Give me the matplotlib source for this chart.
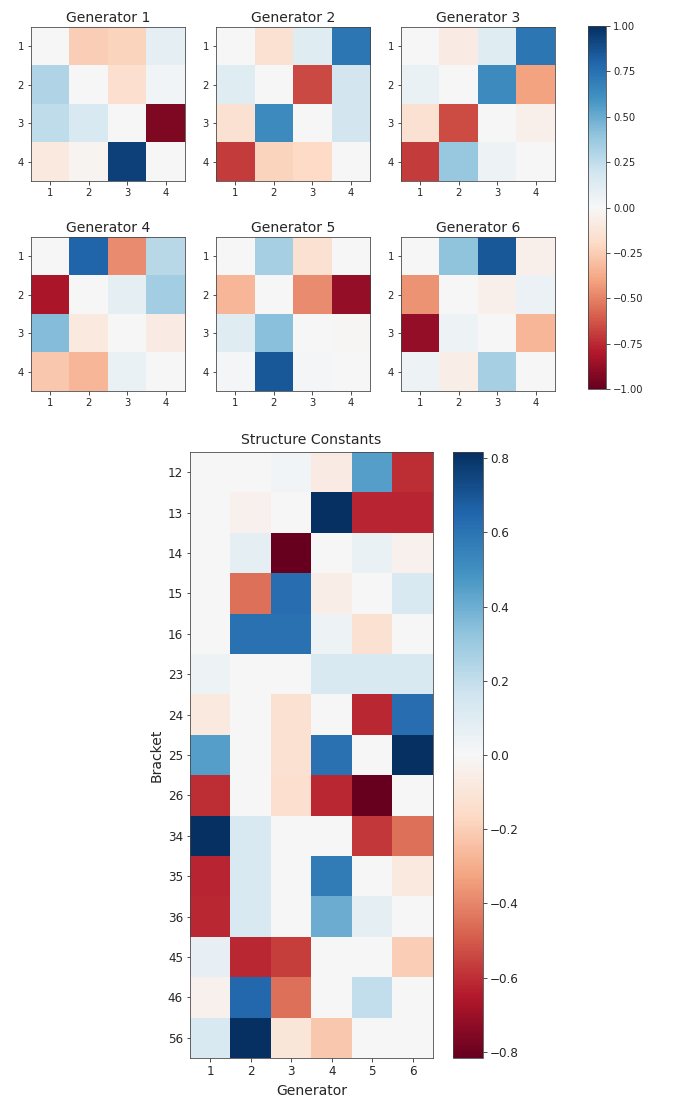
import numpy as np
import matplotlib
matplotlib.use("Agg")
import matplotlib.pyplot as plt
from matplotlib.colors import Normalize

# ---- data ----
gen_titles = ["Generator 1", "Generator 2", "Generator 3",
              "Generator 4", "Generator 5", "Generator 6"]
gen_ticks = ["1", "2", "3", "4"]

gen1 = [[0.00, -0.25, -0.22, 0.10],
        [0.30, 0.00, -0.17, 0.03],
        [0.25, 0.15, 0.00, -0.93],
        [-0.10, -0.03, 0.93, 0.00]]
gen2 = [[0.00, -0.15, 0.12, 0.72],
        [0.12, 0.00, -0.66, 0.18],
        [-0.15, 0.64, 0.00, 0.18],
        [-0.70, -0.22, -0.20, 0.00]]
gen3 = [[0.00, -0.08, 0.12, 0.72],
        [0.07, 0.00, 0.64, -0.40],
        [-0.15, -0.65, 0.00, -0.05],
        [-0.70, 0.38, 0.05, 0.00]]
gen4 = [[0.00, 0.80, -0.47, 0.28],
        [-0.82, 0.00, 0.10, 0.35],
        [0.43, -0.10, 0.00, -0.08],
        [-0.27, -0.33, 0.07, 0.00]]
gen5 = [[0.00, 0.33, -0.15, 0.00],
        [-0.33, 0.00, -0.47, -0.88],
        [0.12, 0.42, 0.00, -0.01],
        [0.02, 0.85, 0.02, 0.00]]
gen6 = [[0.00, 0.40, 0.85, -0.05],
        [-0.45, 0.00, -0.05, 0.06],
        [-0.88, 0.05, 0.00, -0.33],
        [0.05, -0.07, 0.33, 0.00]]
generators = [gen1, gen2, gen3, gen4, gen5, gen6]

bracket_labels = ["12", "13", "14", "15", "16", "23", "24", "25", "26",
                  "34", "35", "36", "45", "46", "56"]
generator_labels = ["1", "2", "3", "4", "5", "6"]
structure = [
    [0.000, 0.000, 0.024, -0.065, 0.449, -0.600],
    [0.000, -0.033, 0.000, 0.8165, -0.625, -0.620],
    [0.000, 0.082, -0.8165, 0.000, 0.057, -0.033],
    [0.000, -0.449, 0.625, -0.057, 0.000, 0.122],
    [0.000, 0.612, 0.612, 0.041, -0.122, 0.000],
    [0.041, 0.000, 0.000, 0.122, 0.122, 0.122],
    [-0.082, 0.000, -0.122, 0.000, -0.615, 0.625],
    [0.449, 0.000, -0.122, 0.612, 0.000, 0.8165],
    [-0.600, 0.000, -0.139, -0.615, -0.8165, 0.000],
    [0.8165, 0.122, 0.000, 0.000, -0.575, -0.449],
    [-0.625, 0.122, 0.000, 0.572, 0.000, -0.082],
    [-0.615, 0.122, 0.000, 0.408, 0.082, 0.000],
    [0.065, -0.615, -0.565, 0.000, 0.000, -0.204],
    [-0.033, 0.640, -0.449, 0.000, 0.204, 0.000],
    [0.122, 0.8165, -0.098, -0.220, 0.000, 0.000],
]
struct_lim = 0.8165

# ---- figure ----
W, H = 673, 1109
fig = plt.figure(figsize=(W / 72, H / 72), dpi=72)
txt = "#262626"
plt.rcParams["text.color"] = txt


def ax_px(l, t, r, b):
    return fig.add_axes([l / W, 1 - b / H, (r - l) / W, (b - t) / H])


lefts = [31, 216, 401]
tops = [27, 237]
size = 154
norm1 = Normalize(-1, 1)
im = None
for i, (g, title) in enumerate(zip(generators, gen_titles)):
    r, c = divmod(i, 3)
    ax = ax_px(lefts[c], tops[r], lefts[c] + size, tops[r] + size)
    im = ax.imshow(np.array(g), cmap="RdBu", norm=norm1)
    ax.set_xticks(range(4))
    ax.set_xticklabels(gen_ticks)
    ax.set_yticks(range(4))
    ax.set_yticklabels(gen_ticks)
    ax.tick_params(labelsize=10, colors=txt, labelcolor=txt)
    ax.set_title(title, fontsize=14, color=txt, pad=5)
    for s in ax.spines.values():
        s.set_color("#444444")

cax1 = ax_px(588, 26, 606, 389)
cb1 = fig.colorbar(im, cax=cax1, ticks=[-1, -0.75, -0.5, -0.25, 0, 0.25, 0.5, 0.75, 1])
cb1.ax.set_yticklabels(["\u22121.00", "\u22120.75", "\u22120.50", "\u22120.25",
                        "0.00", "0.25", "0.50", "0.75", "1.00"])
cb1.ax.tick_params(labelsize=10, colors=txt)
cb1.outline.set_edgecolor("#444444")

axb = ax_px(190, 452, 433, 1058)
imb = axb.imshow(np.array(structure), cmap="RdBu",
                 norm=Normalize(-struct_lim, struct_lim), aspect="auto")
axb.set_xticks(range(len(generator_labels)))
axb.set_xticklabels(generator_labels)
axb.set_yticks(range(len(bracket_labels)))
axb.set_yticklabels(bracket_labels)
axb.tick_params(labelsize=12, colors=txt)
axb.set_title("Structure Constants", fontsize=14, color=txt, pad=8)
axb.set_xlabel("Generator", fontsize=14, color=txt, labelpad=6)
axb.set_ylabel("Bracket", fontsize=14, color=txt)
for s in axb.spines.values():
    s.set_color("#444444")

cax2 = ax_px(453, 452, 483, 1058)
cb2 = fig.colorbar(imb, cax=cax2, ticks=[-0.8, -0.6, -0.4, -0.2, 0, 0.2, 0.4, 0.6, 0.8])
cb2.ax.set_yticklabels(["\u22120.8", "\u22120.6", "\u22120.4", "\u22120.2",
                        "0.0", "0.2", "0.4", "0.6", "0.8"])
cb2.ax.tick_params(labelsize=12, colors=txt)
cb2.outline.set_edgecolor("#444444")

fig.savefig("out.png", dpi=72)
